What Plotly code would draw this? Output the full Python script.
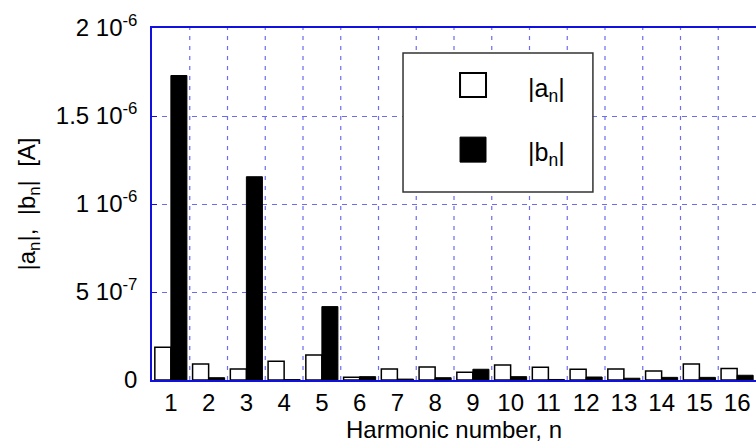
import plotly.graph_objects as go

harmonics = list(range(1, 17))
a_n = [1.86e-7, 9.1e-8, 6.3e-8, 1.06e-7, 1.42e-7, 1.5e-8, 6.3e-8, 7.4e-8,
       4.4e-8, 8.5e-8, 7.2e-8, 6.1e-8, 6.3e-8, 5.1e-8, 9.1e-8, 6.6e-8]
b_n = [1.73e-6, 1.3e-8, 1.155e-6, 2e-9, 4.17e-7, 1.9e-8, 5e-9, 1.3e-8,
       6.1e-8, 1.9e-8, 3e-9, 1.7e-8, 1e-8, 1.5e-8, 1.5e-8, 2.7e-8]
ytick_vals = [0, 5e-7, 1e-6, 1.5e-6, 2e-6]
ytick_text = ["0", "5 10<sup>-7</sup>", "1 10<sup>-6</sup>", "1.5 10<sup>-6</sup>", "2 10<sup>-6</sup>"]

FONT = "Liberation Sans, Arial, sans-serif"
GRID = "#6c6cf0"
AXIS = "#1010e0"
NB = "\u00a0"

fig = go.Figure()
fig.add_trace(go.Bar(x=harmonics, y=a_n, name="|a<sub>n</sub>|",
                     marker=dict(color="white", line=dict(color="black", width=1.5))))
fig.add_trace(go.Bar(x=harmonics, y=b_n, name="|b<sub>n</sub>|",
                     marker=dict(color="black", line=dict(color="black", width=1))))

fig.update_layout(
    width=756, height=445,
    margin=dict(l=152, r=0, t=28, b=65),
    paper_bgcolor="white", plot_bgcolor="white",
    barmode="group", bargap=0.15, bargroupgap=0,
    showlegend=False,
    font=dict(family=FONT, size=24, color="black"),
)
fig.update_xaxes(
    range=[0.5, 16.5], tickvals=harmonics, ticktext=[str(h) for h in harmonics],
    showgrid=False, zeroline=False,
    showline=True, linecolor=AXIS, linewidth=1.5, mirror=True,
    ticks="", tickfont=dict(size=24),
    title=dict(text="Harmonic number, n", font=dict(size=24), standoff=2),
)
fig.update_yaxes(
    range=[0, 2e-6], tickvals=ytick_vals, ticktext=ytick_text,
    showgrid=True, gridcolor=GRID, griddash="5px,5px", gridwidth=1.2,
    zeroline=False, showline=True, linecolor=AXIS, linewidth=1.5, mirror=False,
    ticks="inside", ticklen=5, tickcolor=AXIS, tickfont=dict(size=24),
    ticklabelstandoff=8,
    title=dict(text=f"|a<sub>n</sub>|,{NB}{NB}|b<sub>n</sub>|{NB}{NB}[A]", font=dict(size=24), standoff=13),
)

# vertical grid lines between harmonic groups
for h in harmonics[:-1]:
    fig.add_shape(type="line", xref="x", yref="paper", x0=h + 0.5, x1=h + 0.5, y0=0, y1=1,
                  line=dict(color=GRID, width=1.2, dash="4px,6px"), layer="below")

# legend box drawn by hand to mimic the original
fig.add_shape(type="rect", xref="paper", yref="paper", x0=0.4156, x1=0.730, y0=0.534, y1=0.929,
              line=dict(color="#333333", width=1.5), fillcolor="white", layer="above")
fig.add_shape(type="rect", xref="paper", yref="paper", x0=0.510, x1=0.553, y0=0.804, y1=0.872,
              line=dict(color="black", width=2), fillcolor="white", layer="above")
fig.add_shape(type="rect", xref="paper", yref="paper", x0=0.510, x1=0.553, y0=0.619, y1=0.690,
              line=dict(color="black", width=1), fillcolor="black", layer="above")
fig.add_annotation(xref="paper", yref="paper", x=0.620, y=0.823, xanchor="left", yanchor="middle",
                   text="|a<sub>n</sub>|", showarrow=False, font=dict(size=25))
fig.add_annotation(xref="paper", yref="paper", x=0.620, y=0.641, xanchor="left", yanchor="middle",
                   text="|b<sub>n</sub>|", showarrow=False, font=dict(size=25))

fig.write_html("out.html")
